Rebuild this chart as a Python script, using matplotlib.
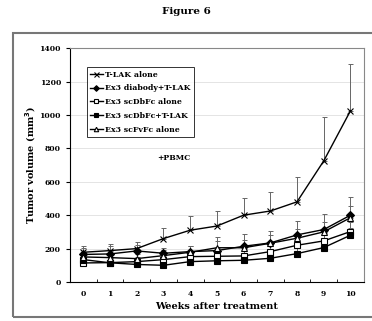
import numpy as np
import matplotlib
matplotlib.use("Agg")
import matplotlib.pyplot as plt
from matplotlib.patches import Rectangle

plt.rcParams['font.family'] = ['DejaVu Serif']
plt.rcParams['font.weight'] = 'bold'

# data (weeks after treatment vs tumor volume, mm^3)
weeks = [0, 1, 2, 3, 4, 5, 6, 7, 8, 9, 10]
tlak_alone = [178, 188, 200, 260, 310, 335, 400, 425, 480, 725, 1025]
tlak_alone_err = [35, 40, 40, 66, 84, 92, 100, 114, 150, 265, 280]
diabody_tlak = [165, 168, 186, 172, 182, 188, 214, 234, 282, 314, 400]
diabody_tlak_err = [40, 45, 35, 30, 35, 80, 72, 72, 85, 95, 110]
scdbfc_alone = [114, 116, 122, 134, 152, 154, 156, 182, 220, 246, 302]
scdbfc_alone_err = [25, 25, 25, 30, 30, 35, 40, 40, 45, 50, 60]
scdbfc_tlak = [134, 115, 105, 100, 122, 127, 130, 142, 170, 206, 280]
scdbfc_tlak_err = [20, 20, 20, 20, 25, 25, 25, 30, 35, 40, 45]
scfvfc_alone = [150, 146, 140, 158, 178, 205, 205, 232, 262, 300, 385]
scfvfc_alone_err = [30, 30, 30, 35, 35, 40, 45, 50, 55, 60, 70]

series = [
    ("T-LAK alone", tlak_alone, tlak_alone_err, dict(marker='x', mfc='none', ms=4.5)),
    ("Ex3 diabody+T-LAK", diabody_tlak, diabody_tlak_err, dict(marker='D', mfc='black', ms=3.6)),
    ("Ex3 scDbFc alone", scdbfc_alone, scdbfc_alone_err, dict(marker='s', mfc='white', ms=4)),
    ("Ex3 scDbFc+T-LAK", scdbfc_tlak, scdbfc_tlak_err, dict(marker='s', mfc='black', ms=4)),
    ("Ex3 scFvFc alone", scfvfc_alone, scfvfc_alone_err, dict(marker='^', mfc='white', ms=4)),
]

fig = plt.figure(figsize=(3.72, 3.21), dpi=100)
fig.patches.append(Rectangle((0.034, 0.012), 1.0, 0.885, transform=fig.transFigure,
                             fill=False, edgecolor='#777777', linewidth=1.5))
fig.text(0.5, 0.965, "Figure 6", ha='center', va='center', fontsize=7.5, fontweight='bold')

ax = fig.add_axes([0.188, 0.1215, 0.79, 0.7285])
for label, vals, err, style in series:
    lo = np.zeros(len(err))
    ax.errorbar(weeks, vals, yerr=[lo, err], fmt='none', ecolor='#666666',
                elinewidth=0.7, capsize=1.8, capthick=0.7, zorder=2)
    ax.plot(weeks, vals, color='black', linewidth=1.0, mec='black', mew=0.8,
            label=label, zorder=3, **style)

ax.set_xlim(-0.5, 10.5)
ax.set_ylim(0, 1400)
ax.set_yticks(np.arange(0, 1401, 200))
ax.set_xticks(weeks)
ax.set_xticks(np.arange(0.5, 10, 1), minor=True)
ax.tick_params(axis='x', which='major', length=0, labelsize=5.5, pad=6)
ax.tick_params(axis='x', which='minor', length=2.5, direction='in')
ax.tick_params(axis='y', labelsize=5.5, length=3, direction='out')
ax.grid(axis='y', color='#e4e4e4', linewidth=0.7)
ax.set_axisbelow(True)
for s in ax.spines.values():
    s.set_linewidth(0.8)
ax.spines['top'].set_color('#888888')
ax.spines['right'].set_color('#888888')

ax.set_xlabel("Weeks after treatment", fontsize=7, fontweight='bold', labelpad=3)
ax.set_ylabel("Tumor volume (mm$^3$)", fontsize=7, fontweight='bold', labelpad=1)
ax.text(3.4, 740, "+PBMC", fontsize=5.5, ha='center', va='center')

leg = ax.legend(loc='upper left', bbox_to_anchor=(0.044, 0.936), fontsize=5.6,
                frameon=True, fancybox=False, edgecolor='black', handlelength=1.6,
                handletextpad=0.3, borderpad=0.45, labelspacing=0.75, markerscale=0.8)
leg.get_frame().set_linewidth(0.7)

fig.savefig("out.png", dpi=100)
